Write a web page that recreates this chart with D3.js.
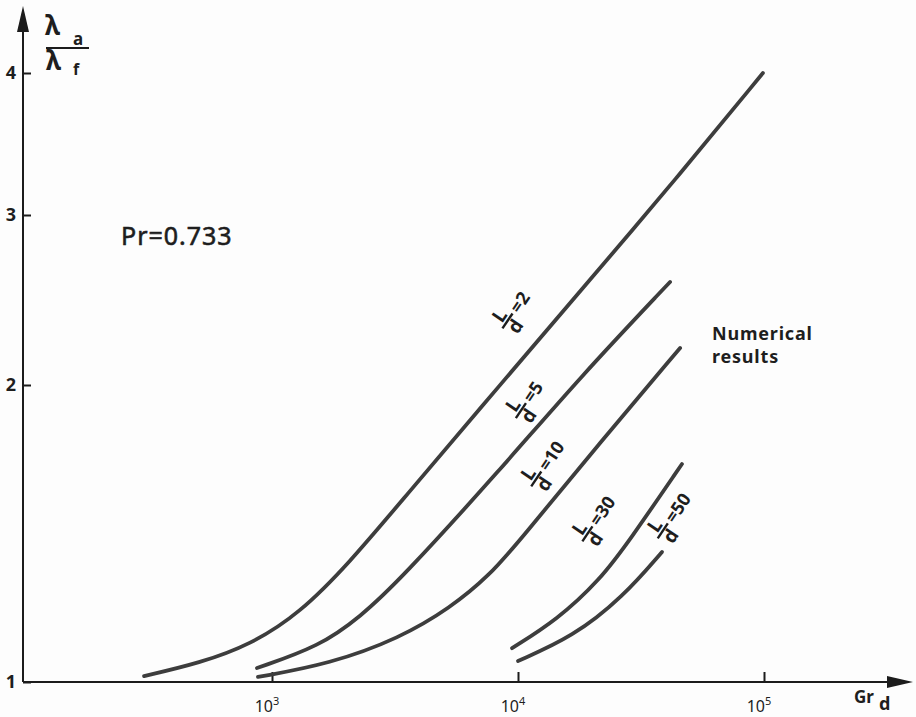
<!DOCTYPE html>
<html>
<head>
<meta charset="utf-8">
<script src="https://cdn.jsdelivr.net/npm/d3@7"></script>
<style>
  html, body { margin: 0; padding: 0; background: #fff; }
  svg { display: block; }
  text { font-family: "Noto Sans", "DejaVu Sans", sans-serif; fill: #1e1e1e; }
</style>
</head>
<body>
<div id="chart"></div>
<script>
// lambda_a / lambda_f against Gr_d, one curve per L/d ratio
const ratios = ["2", "5", "10", "30", "50"];

const gr2  = [302, 509, 815, 1300, 2075, 3310, 8450, 19600, 43500, 99000];
const lam2 = [1.02, 1.064, 1.125, 1.232, 1.404, 1.603, 2.0, 2.618, 3.246, 4.0];

const gr5  = [869, 1567, 2280, 3310, 8450, 17900, 41500];
const lam5 = [1.047, 1.121, 1.219, 1.343, 1.714, 2.047, 2.606];

const gr10  = [877, 1720, 3310, 5300, 7690, 10200, 21500, 45600];
const lam10 = [1.017, 1.061, 1.148, 1.249, 1.36, 1.478, 1.805, 2.218];

const gr30  = [9460, 14400, 21500, 28500, 46400];
const lam30 = [1.114, 1.209, 1.343, 1.478, 1.734];

const gr50  = [10000, 16700, 26700, 38500];
const lam50 = [1.071, 1.152, 1.286, 1.438];

const yTicks = [1, 2, 3, 4];
const xTicks = [1e3, 1e4, 1e5];
const xTickExp = ["3", "4", "5"];

// where each L/d tag sits (data units)
const tagGr  = [9700, 11000, 12700, 20500, 41500];
const tagLam = [2.44, 1.95, 1.72, 1.535, 1.545];

const series = [
  { gr: gr2, lam: lam2 },
  { gr: gr5, lam: lam5 },
  { gr: gr10, lam: lam10 },
  { gr: gr30, lam: lam30 },
  { gr: gr50, lam: lam50 }
];

const W = 916, H = 717;
const x0 = 23, yBase = 682;

const svg = d3.select('#chart').append('svg')
  .attr('width', W).attr('height', H)
  .attr('viewBox', `0 0 ${W} ${H}`);

svg.append('rect').attr('width', W).attr('height', H).attr('fill', '#fdfdfd');

// scales: log x, the hand-drawn y axis has uneven spacing between 1,2,3,4
const x = d3.scaleLog().domain([1e3, 1e5]).range([272, 764]);
const y = d3.scaleLinear().domain(yTicks).range([682, 385, 215, 73]);

const ink = '#1c1c1c';
const curveInk = '#3d3d3d';

// axes lines + arrows
svg.append('line')
  .attr('x1', x0).attr('y1', yBase).attr('x2', x0).attr('y2', 20)
  .attr('stroke', ink).attr('stroke-width', 2);
svg.append('path')
  .attr('d', `M${x0},6 L${x0 - 6},32 L${x0 + 6},32 Z`)
  .attr('fill', ink);

svg.append('line')
  .attr('x1', x0).attr('y1', yBase).attr('x2', 900).attr('y2', yBase)
  .attr('stroke', ink).attr('stroke-width', 2);
svg.append('path')
  .attr('d', `M913,${yBase} L887,${yBase - 6} L887,${yBase + 6} Z`)
  .attr('fill', ink);

// y ticks
const yAxis = svg.append('g')
  .attr('transform', `translate(${x0},0)`)
  .call(d3.axisLeft(y).tickValues(yTicks).tickSize(-8).tickPadding(7).tickFormat(d3.format('d')));
yAxis.select('.domain').remove();
yAxis.selectAll('.tick line').attr('stroke', ink).attr('stroke-width', 2);
yAxis.selectAll('.tick text')
  .style('font-family', '"Noto Sans", sans-serif')
  .style('font-size', '18px').style('font-weight', 'bold').attr('fill', ink);

// x ticks
const xAxis = svg.append('g')
  .attr('transform', `translate(0,${yBase})`)
  .call(d3.axisBottom(x).tickValues(xTicks).tickSize(-10).tickFormat(() => ''));
xAxis.select('.domain').remove();
xAxis.selectAll('.tick line').attr('stroke', ink).attr('stroke-width', 2);

const xl = svg.append('g').selectAll('text')
  .data(xTicks)
  .join('text')
  .attr('x', d => x(d) - 5)
  .attr('y', yBase + 30)
  .attr('text-anchor', 'middle')
  .style('font-size', '16px');
xl.append('tspan').text('10');
xl.append('tspan').attr('dy', -7).style('font-size', '11px').text((d, i) => xTickExp[i]);

// curves
const line = d3.line()
  .x(d => x(d[0]))
  .y(d => y(d[1]))
  .curve(d3.curveBasis);

svg.append('g').selectAll('path')
  .data(series)
  .join('path')
  .attr('d', s => line(s.gr.map((g, i) => [g, s.lam[i]])))
  .attr('fill', 'none')
  .attr('stroke', curveInk)
  .attr('stroke-width', 3.8)
  .attr('stroke-linecap', 'round');

// L/d tags, rotated along the curves
const tags = svg.append('g').selectAll('g')
  .data(ratios)
  .join('g')
  .attr('transform', (d, i) => `translate(${x(tagGr[i])},${y(tagLam[i])}) rotate(-56)`);

tags.append('line')
  .attr('x1', -22).attr('x2', -4).attr('y1', 0).attr('y2', 0)
  .attr('stroke', ink).attr('stroke-width', 2.4);
tags.append('text')
  .attr('x', -13).attr('y', -3)
  .attr('text-anchor', 'middle')
  .style('font-size', '19px').style('font-weight', 'bold')
  .text('L');
tags.append('text')
  .attr('x', -13).attr('y', 16)
  .attr('text-anchor', 'middle')
  .style('font-size', '19px').style('font-weight', 'bold')
  .text('d');
tags.append('text')
  .attr('x', -1).attr('y', 6)
  .style('font-size', '18px').style('font-weight', 'bold')
  .text(d => '=' + d);

// annotations
svg.append('text')
  .attr('x', 121).attr('y', 245)
  .style('font-size', '25px')
  .style('letter-spacing', '1px')
  .attr('stroke', '#1e1e1e').attr('stroke-width', 0.6)
  .text('Pr=0.733');

svg.append('text')
  .attr('x', 712).attr('y', 340)
  .style('font-size', '18px').style('font-weight', 'bold')
  .style('letter-spacing', '0.8px')
  .text('Numerical');
svg.append('text')
  .attr('x', 712).attr('y', 363)
  .style('font-size', '18px').style('font-weight', 'bold')
  .style('letter-spacing', '0.8px')
  .text('results');

// y axis title: lambda_a / lambda_f
const yt = svg.append('g');
yt.append('text').attr('x', 45).attr('y', 35).style('font-size', '26px').style('font-weight', 'bold').text('λ');
yt.append('text').attr('x', 73).attr('y', 45).style('font-size', '17px').style('font-weight', 'bold').text('a');
yt.append('line').attr('x1', 46).attr('x2', 89).attr('y1', 48).attr('y2', 48)
  .attr('stroke', ink).attr('stroke-width', 2.2);
yt.append('text').attr('x', 46).attr('y', 70).style('font-size', '26px').style('font-weight', 'bold').text('λ');
yt.append('text').attr('x', 73).attr('y', 75).style('font-size', '16px').style('font-weight', 'bold').text('f');

// x axis title: Gr_d
const xt = svg.append('text').attr('x', 854).attr('y', 703)
  .style('font-size', '17px').style('font-weight', 'bold');
xt.append('tspan').text('Gr');
xt.append('tspan').attr('dx', 5).attr('dy', 7).style('font-size', '18px').text('d');
</script>
</body>
</html>
